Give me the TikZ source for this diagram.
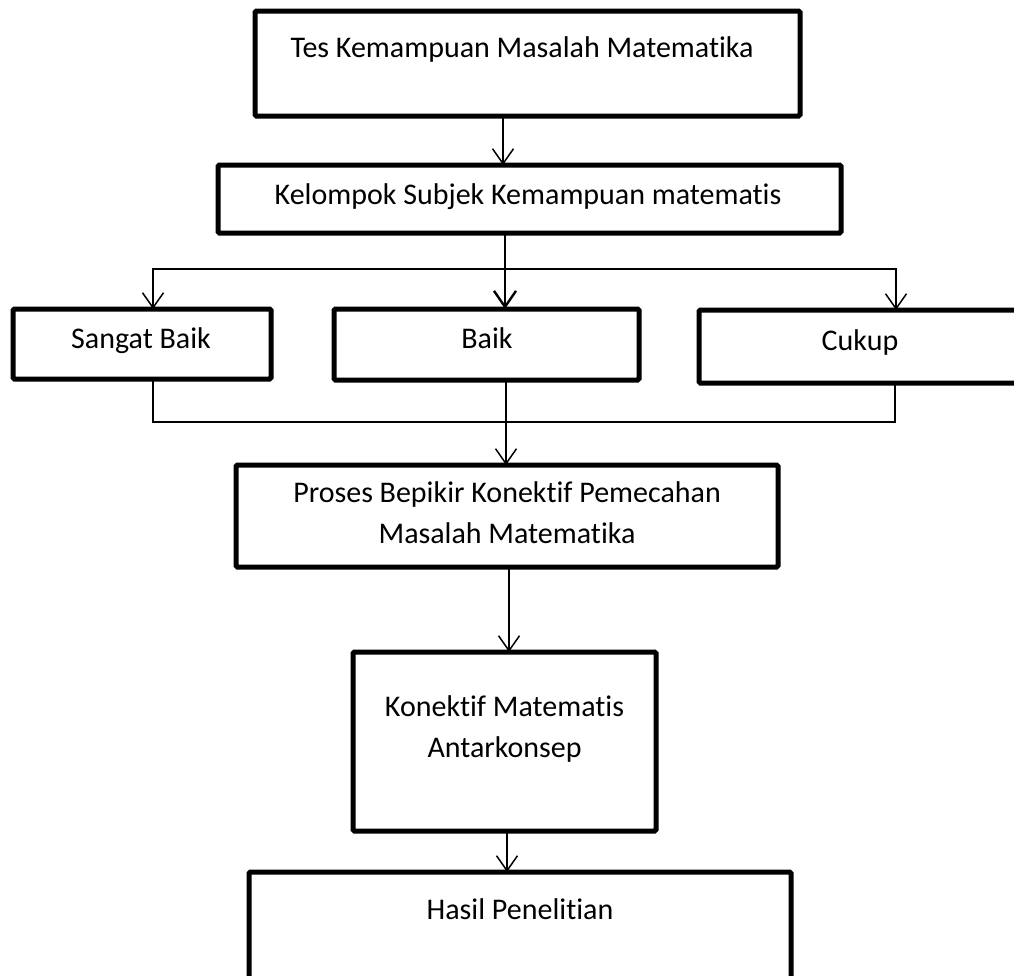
\documentclass[tikz,border=0pt]{standalone}
\usepackage{fontspec}
\setmainfont{Carlito}[Ligatures={NoCommon}]
\usetikzlibrary{arrows.meta}

\tikzset{
  box/.style={draw=black, line width=5pt, rounded corners=1.5pt, fill=none,
              inner sep=0pt, outer sep=0pt},
  txt/.style={inner sep=0pt, anchor=base, font=\fontsize{30}{41}\selectfont},
  wire/.style={draw=black, line width=1.5pt},
  con/.style={wire, -{Straight Barb[length=15pt,width=21pt]}},
  conboth/.style={wire, {Straight Barb[length=15pt,width=21pt]}-{Straight Barb[length=15pt,width=21pt]}},
  conbold/.style={draw=black, line width=2.4pt, -{Straight Barb[length=16pt,width=22pt]}}
}

\begin{document}
\begin{tikzpicture}[x=1pt,y=-1pt]
  \useasboundingbox (0,0) rectangle (1014,975);

  % boxes
  \node[box, minimum width=545pt, minimum height=105pt] (b1) at (527.5,63.5) {};
  \node[box, minimum width=623pt, minimum height=68pt]  (b2) at (529.5,199) {};
  \node[box, minimum width=258pt, minimum height=70pt]  (sb) at (142,344) {};
  \node[box, minimum width=305pt, minimum height=71pt]  (bk) at (486.5,344.5) {};
  \node[box, minimum width=324pt, minimum height=73pt]  (ck) at (861,346.5) {};
  \node[box, minimum width=542pt, minimum height=102pt] (pr) at (507,516) {};
  \node[box, minimum width=303pt, minimum height=179pt] (kn) at (504.5,741.5) {};
  \node[box, minimum width=542pt, minimum height=130pt] (hs) at (520,937) {};

  % labels (multi-line labels sit on the baseline of their last line)
  \node[txt] (t1) at (522,57)  {Tes Kemampuan Masalah Matematika};
  \node[txt] (t2) at (528,204) {Kelompok Subjek Kemampuan matematis};
  \node[txt] (t3) at (141,348) {Sangat Baik};
  \node[txt] (t4) at (487,348) {Baik};
  \node[txt] (t5) at (860,350) {Cukup};
  \node[txt, align=center] (t6) at (507,543) {Proses Bepikir Konektif Pemecahan\\Masalah Matematika};
  \node[txt, align=center] (t7) at (504.5,757) {Konektif Matematis\\Antarkonsep};
  \node[txt] (t8) at (520,919) {Hasil Penelitian};

  % guide points for the connectors
  \coordinate (c1) at (503,0);
  \coordinate (c2) at (505,0);
  \coordinate (jL) at (153,269);
  \coordinate (jR) at (896,269);
  \coordinate (kL) at (153,422);
  \coordinate (kR) at (895,422);
  \coordinate (c4) at (506,0);
  \coordinate (c5) at (509,0);
  \coordinate (c6) at (507,0);

  % connectors
  \draw[con] (b1.south -| c1) -- (b2.north -| c1);
  \draw[conboth] (sb.north -| jL) -- (jL) -- (jR) -- (ck.north -| jR);
  \draw[wire] (b2.south -| c2) -- (bk.north -| c2);
  \draw[conbold] (jL -| c2) -- (bk.north -| c2);
  \draw[wire] (sb.south -| kL) -- (kL) -- (kR) -- (ck.south -| kR);
  \draw[con] (bk.south -| c4) -- (pr.north -| c4);
  \draw[con] (pr.south -| c5) -- (kn.north -| c5);
  \draw[con] (kn.south -| c6) -- (hs.north -| c6);
\end{tikzpicture}
\end{document}
